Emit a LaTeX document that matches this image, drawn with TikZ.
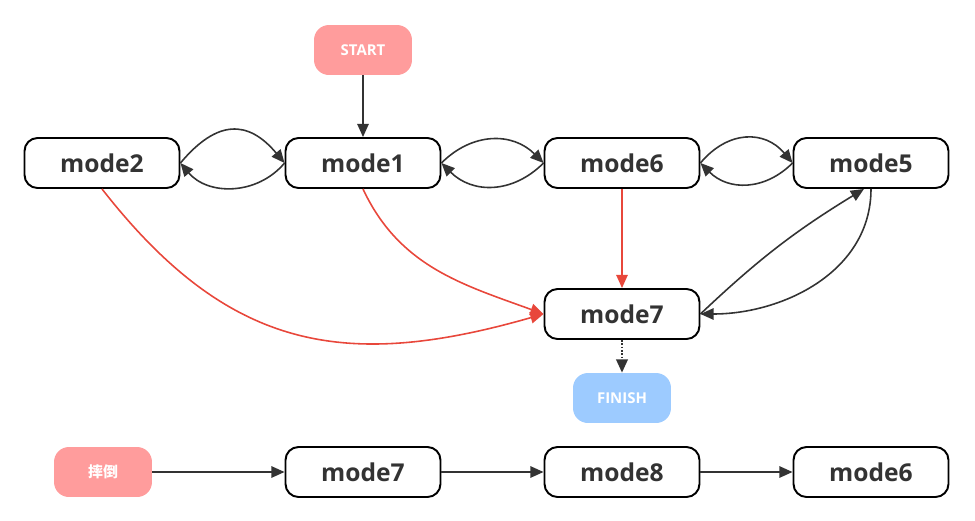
\documentclass[tikz,border=0pt]{standalone}
\usepackage{fontspec}
\setmainfont{Open Sans}
\newfontfamily\cjk{Noto Sans CJK SC}
\usetikzlibrary{arrows.meta}
\definecolor{startpink}{HTML}{FF9C9C}
\definecolor{finishblue}{HTML}{9DCBFF}
\definecolor{edgegray}{HTML}{333333}
\definecolor{jumpred}{HTML}{E8473B}
\tikzset{
  modebox/.style={draw, line width=1.1pt, rounded corners=7.4pt, minimum width=3.1cm,
    minimum height=1cm, text=edgegray, font=\fontsize{14}{16}\selectfont\bfseries},
  termbox/.style={fill=#1, rounded corners=8.5pt, minimum width=1.96cm, minimum height=1cm,
    text=white, font=\fontsize{8.5}{10}\selectfont\bfseries},
  link/.style={draw=edgegray, line width=0.9pt, -{Triangle[length=7.5pt,width=6.5pt]}},
  jump/.style={draw=jumpred, line width=0.9pt, -{Triangle[length=7.5pt,width=6.5pt]}}
}
\begin{document}
\begin{tikzpicture}[x=0.02cm, y=-0.02cm]
  \useasboundingbox (0,0) rectangle (975,521);
  % top row and the target state
  \foreach \n/\t/\x/\y in {m2/mode2/102/163, m1/mode1/363/163, m6/mode6/622/163,
      m5/mode5/871/163, m7/mode7/622/314,
      b7/mode7/363/472, b8/mode8/622/472, b6/mode6/871/472}
    \node[modebox] (\n) at (\x,\y) {\t};
  \node[termbox=startpink] (start) at (363,50) {START};
  \node[termbox=finishblue] (finish) at (622,398) {FINISH};
  \node[termbox=startpink, font=\cjk\fontsize{8.5}{10}\selectfont\bfseries] (fall) at (103,472) {摔倒};

  \draw[link] (start) -- (m1);
  % back and forth along the row
  \draw[link] (m2.east) to[bend left=50, looseness=1.4] (m1.west);
  \draw[link] (m1.west) to[bend left=50, looseness=1.05] (m2.east);
  \draw[link] (m1.east) to[bend left=45, looseness=1.1] (m6.west);
  \draw[link] (m6.west) to[bend left=45, looseness=1.1] (m1.east);
  \draw[link] (m6.east) to[bend left=50, looseness=1.2] (m5.west);
  \draw[link] (m5.west) to[bend left=45, looseness=1.1] (m6.east);
  % jumps into mode7
  \draw[jump] (m2.south) to[out=-52, in=196, looseness=1.15] (m7.west);
  \draw[jump] (m1.south) to[out=-65, in=160] (m7.west);
  \draw[jump] (m6) -- (m7);
  \draw[link] (m7.east) to[bend left=6] ([xshift=-4pt]m5.south);
  \draw[link] (m5.south) to[out=-90, in=0] (m7.east);
  \draw[link, densely dotted, line width=1.2pt] (m7) -- (finish);
  % fall sequence
  \draw[link] (fall) -- (b7);
  \draw[link] (b7) -- (b8);
  \draw[link] (b8) -- (b6);
\end{tikzpicture}
\end{document}
